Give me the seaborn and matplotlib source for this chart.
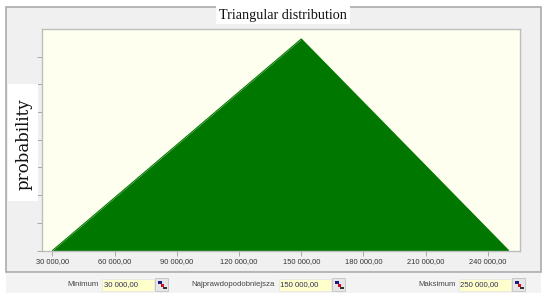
#%% Loading libraries
import seaborn as sns
import pandas as pd
import matplotlib.pyplot as plt
from matplotlib.patches import Rectangle

#%% Data
x_values = [30000, 150000, 250000]
y_values = [0, 9.09e-6, 0]
x_ticks = [30000, 60000, 90000, 120000, 150000, 180000, 210000, 240000]
x_tick_labels = ['30 000,00', '60 000,00', '90 000,00', '120 000,00',
                 '150 000,00', '180 000,00', '210 000,00', '240 000,00']
y_ticks = [0, 1.19e-6, 2.38e-6, 3.57e-6, 4.76e-6, 5.95e-6, 7.14e-6, 8.33e-6]
field_names = ['Minimum', 'Najprawdopodobniejsza', 'Maksimum']
field_values = ['30 000,00', '150 000,00', '250 000,00']

W, H = 546, 297
sns.set_style("ticks")
plt.rcParams['font.family'] = ['Liberation Sans', 'DejaVu Sans']

fig = plt.figure(figsize=(W / 100, H / 100), dpi=100, facecolor='white')

# helper, pixels from the top left corner
def box(x0, y0, x1, y1, **kw):
    fig.add_artist(Rectangle((x0 / W, 1 - y1 / H), (x1 - x0) / W, (y1 - y0) / H,
                             transform=fig.transFigure, **kw))

def label(x, y, s, **kw):
    fig.text(x / W, 1 - y / H, s, va='center', **kw)

# Window panel and the band with the fields, behind the axes
box(6, 7, 541, 272, facecolor='#F0F0F0', edgecolor='#ABABAB', lw=1.2, zorder=-2)
box(6, 273, 541, 293, facecolor='#F3F3F3', edgecolor='none', zorder=-2)

#%% Plot
ax = fig.add_axes([41.5 / W, 1 - 250.5 / H, (520 - 41.5) / W, (250.5 - 28.5) / H])
ax.set_zorder(2)
ax.set_facecolor('#FFFFF0')
df = pd.DataFrame({'value': x_values, 'density': y_values})
sns.lineplot(data=df, x='value', y='density', color='#007800', lw=0.8, ax=ax)
ax.fill_between(x_values, y_values, 0, color='#007800', lw=0)

ax.set_xlim(24700, 255500)
ax.set_ylim(0, 9.54e-6)
ax.set_xticks(x_ticks)
ax.set_xticklabels(x_tick_labels, fontsize=5.4, color='#333333')
ax.set_yticks(y_ticks)
ax.set_yticklabels([])
ax.tick_params(axis='both', length=3.5, width=0.7, color='#A8A8A8', pad=1.8)
ax.set_xlabel('')
ax.set_ylabel('')
for s in ax.spines.values():
    s.set_color('#BDBDBD')
    s.set_linewidth(1)

# Pasted title and axis label on white
box(216, 5, 350, 24, facecolor='white', edgecolor='none', zorder=5)
box(8, 84, 38, 201, facecolor='white', edgecolor='none', zorder=5)
label(283, 15, 'Triangular distribution', family='Liberation Serif', fontsize=10.2,
      ha='center', color='#111111', zorder=6)
label(24.5, 144.5, 'probability', family='DejaVu Serif', fontsize=12, rotation=90,
      ha='center', color='#111111', zorder=6)

# Input fields under the chart
name_right = [99, 275, 456]
field_left = [102, 279, 458.5]
field_width = [52, 52, 52]
for name, val, nr, fl, fw in zip(field_names, field_values, name_right, field_left, field_width):
    label(nr, 284.5, name, fontsize=5.6, ha='right', color='#444444', zorder=6)
    box(fl, 279, fl + fw, 291, facecolor='#FFFFCC', edgecolor='#E4E4E4', lw=0.5, zorder=5)
    label(fl + 1.5, 284.5, val, fontsize=5.6, ha='left', color='#333355', zorder=6)
    box(fl + 53, 278, fl + 66, 291, facecolor='#E6E6E6', edgecolor='#BBBBBB', lw=0.5, zorder=5)
    box(fl + 56, 281, fl + 60, 284, facecolor='#1A1A80', edgecolor='none', zorder=6)
    box(fl + 59, 284, fl + 62, 287, facecolor='#D01020', edgecolor='none', zorder=6)
    box(fl + 61, 287, fl + 65, 289, facecolor='#333333', edgecolor='none', zorder=6)

plt.savefig('out.png', dpi=100)
